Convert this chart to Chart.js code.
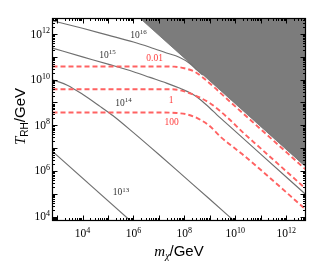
<!DOCTYPE html>
<html><head><meta charset="utf-8">
<script src="https://cdn.jsdelivr.net/npm/chart.js@4/dist/chart.umd.min.js"></script>
<style>html,body{margin:0;padding:0;background:#fff;}canvas{display:block}</style>
</head><body>
<canvas id="c" width="312" height="266"></canvas>
<script>
// ---- data (log10 values) ----
const xRangeExp = [2.82, 12.76];     // log10(m_chi/GeV) axis range
const yRangeExp = [3.83, 12.68];     // log10(T_RH/GeV) axis range
const xTickExps = [4, 6, 8, 10, 12];
const yTickExps = [4, 6, 8, 10, 12];

// gray solid curves (labelled 10^13 ... 10^16)
const c16LogM = [2.82, 4, 5, 6, 6.65, 7.3, 7.8, 8.2, 8.5, 8.72];
const c16LogT = [12.58, 12.25, 11.95, 11.65, 11.42, 11.17, 10.98, 10.72, 10.42, 10.2];
const c15LogM = [2.82, 4, 5, 6, 6.65, 7.3, 7.83, 8.3, 8.62, 9.0, 9.27, 9.6, 10.06, 11, 12.76];
const c15LogT = [11.38, 11.0, 10.68, 10.35, 10.1, 9.85, 9.62, 9.38, 9.13, 8.76, 8.47, 8.14, 7.68, 6.74, 4.98];
const c14LogM = [2.82, 3.4, 4, 4.7, 5.2, 6, 7, 8, 9, 10];
const c14LogT = [10.0, 9.76, 9.36, 8.82, 8.42, 7.68, 6.72, 5.74, 4.76, 3.77];
const c13LogM = [2.82, 5.9];
const c13LogT = [6.86, 3.8];

// red dashed curves (labelled 0.01, 1, 100)
const r001LogM = [2.82, 7.0, 7.6, 8.0, 8.4, 8.7, 9.2, 9.7, 10.3, 11, 12.76];
const r001LogT = [10.58, 10.58, 10.57, 10.5, 10.35, 10.12, 9.64, 9.13, 8.53, 7.83, 6.07];
const r1LogM = [2.82, 7.0, 7.44, 7.9, 8.22, 8.6, 9.01, 9.4, 9.8, 10.31, 11, 12.76];
const r1LogT = [9.58, 9.58, 9.58, 9.52, 9.40, 9.22, 8.97, 8.63, 8.23, 7.68, 6.99, 5.23];
const r100LogM = [2.82, 7.2, 7.7, 8.1, 8.42, 8.94, 9.47, 10.26, 11, 12.76];
const r100LogT = [8.56, 8.56, 8.54, 8.48, 8.36, 8.02, 7.45, 6.75, 6.05, 4.32];

// excluded region boundary (shaded above)
const exclLogM = [6.27, 12.76];
const exclLogT = [12.68, 6.19];

// curve labels: text, exponent, log10 m, log10 T (label centre)
const grayLabelBase = ['10', '10', '10', '10'];
const grayLabelExp = ['16', '15', '14', '13'];
const grayLabelLogM = [6.20, 4.98, 5.61, 5.51];
const grayLabelLogT = [11.98, 11.12, 9.0, 5.10];
const redLabelText = ['0.01', '1', '100'];
const redLabelLogM = [6.83, 7.48, 7.50];
const redLabelLogT = [10.93, 9.11, 8.13];

// ---- build ----
const pts = (lx, ly) => lx.map((e, i) => ({ x: Math.pow(10, e), y: Math.pow(10, ly[i]) }));
const GRAY = '#6f6f6f', RED = '#ff6262', FILL = '#7c7c7c';

function grayDs(lx, ly, name) {
  return { label: name, data: pts(lx, ly), showLine: true, borderColor: GRAY, borderWidth: 1.15,
    pointRadius: 0, cubicInterpolationMode: 'monotone', fill: false, order: 1 };
}
function redDs(lx, ly, name) {
  return { label: name, data: pts(lx, ly), showLine: true, borderColor: RED, borderWidth: 1.9,
    borderDash: [5, 3], pointRadius: 0, cubicInterpolationMode: 'monotone', fill: false, order: 0 };
}

function richWidth(ctx, parts) {
  let w = 0;
  for (const p of parts) { ctx.font = p.font; w += ctx.measureText(p.t).width; }
  return w;
}
function drawRich(ctx, parts, x, y, align, color) {
  const w = richWidth(ctx, parts);
  let cx = align === 'center' ? x - w / 2 : (align === 'right' ? x - w : x);
  ctx.fillStyle = color; ctx.textAlign = 'left'; ctx.textBaseline = 'alphabetic';
  for (const p of parts) {
    ctx.font = p.font;
    ctx.fillText(p.t, cx, y + (p.dy || 0));
    cx += ctx.measureText(p.t).width;
  }
}

const overlay = {
  id: 'overlay',
  afterDatasetsDraw(chart) {
    const ctx = chart.ctx, a = chart.chartArea, xs = chart.scales.x, ys = chart.scales.y;
    ctx.save();
    // frame
    ctx.strokeStyle = '#000'; ctx.lineWidth = 1.2;
    ctx.strokeRect(a.left, a.top, a.right - a.left, a.bottom - a.top);
    // inward ticks on all four sides
    ctx.lineWidth = 1;
    ctx.beginPath();
    for (let n = Math.floor(xRangeExp[0]); n <= Math.ceil(xRangeExp[1]); n++) {
      for (let k = 1; k <= 9; k++) {
        const v = k * Math.pow(10, n);
        if (v < xs.min || v > xs.max) continue;
        const p = Math.round(xs.getPixelForValue(v)) + 0.5;
        const L = k === 1 ? 5 : 2.5;
        ctx.moveTo(p, a.bottom); ctx.lineTo(p, a.bottom - L);
        ctx.moveTo(p, a.top); ctx.lineTo(p, a.top + L);
      }
    }
    for (let n = Math.floor(yRangeExp[0]); n <= Math.ceil(yRangeExp[1]); n++) {
      for (let k = 1; k <= 9; k++) {
        const v = k * Math.pow(10, n);
        if (v < ys.min || v > ys.max) continue;
        const p = Math.round(ys.getPixelForValue(v)) + 0.5;
        const L = k === 1 ? 5 : 2.5;
        ctx.moveTo(a.left, p); ctx.lineTo(a.left + L, p);
        ctx.moveTo(a.right, p); ctx.lineTo(a.right - L, p);
      }
    }
    ctx.stroke();
    // tick labels
    const base = '11.5px "Liberation Serif"', sup = '8px "Liberation Serif"';
    for (const e of xTickExps) {
      const p = xs.getPixelForValue(Math.pow(10, e));
      drawRich(ctx, [{ t: '10', font: base }, { t: String(e), font: sup, dy: -4.5 }], p, a.bottom + 16.5, 'center', '#000');
    }
    for (const e of yTickExps) {
      const p = ys.getPixelForValue(Math.pow(10, e));
      drawRich(ctx, [{ t: '10', font: base }, { t: String(e), font: sup, dy: -4.5 }], a.left - 2.5, p + 3.5, 'right', '#000');
    }
    // curve labels
    const lb = '9.5px "Liberation Serif"', ls = '7px "Liberation Serif"';
    grayLabelExp.forEach((ex, i) => {
      const px = xs.getPixelForValue(Math.pow(10, grayLabelLogM[i]));
      const py = ys.getPixelForValue(Math.pow(10, grayLabelLogT[i]));
      drawRich(ctx, [{ t: grayLabelBase[i], font: lb }, { t: ex, font: ls, dy: -3.5 }], px, py + 3.5, 'center', '#333');
    });
    redLabelText.forEach((t, i) => {
      const px = xs.getPixelForValue(Math.pow(10, redLabelLogM[i]));
      const py = ys.getPixelForValue(Math.pow(10, redLabelLogT[i]));
      drawRich(ctx, [{ t: t, font: lb }], px, py + 3, 'center', '#ff3c3c');
    });
    // axis titles
    const it = 'italic 15px "Liberation Serif"', sf = '15px "Liberation Sans"';
    drawRich(ctx, [{ t: 'm', font: it }, { t: 'χ', font: 'italic 10px "Liberation Serif"', dy: 3 }, { t: '/GeV', font: sf }],
      (a.left + a.right) / 2, 256, 'center', '#000');
    ctx.save();
    ctx.translate(24.5, (a.top + a.bottom) / 2 - 3);
    ctx.rotate(-Math.PI / 2);
    drawRich(ctx, [{ t: 'T', font: it }, { t: 'RH', font: '10px "Liberation Sans"', dy: 3 }, { t: '/GeV', font: sf }],
      0, 0, 'center', '#000');
    ctx.restore();
    ctx.restore();
  }
};

new Chart(document.getElementById('c'), {
  type: 'scatter',
  data: {
    datasets: [
      { label: 'excluded', data: pts(exclLogM, exclLogT), showLine: true, borderColor: '#6e6e6e', borderWidth: 0.8,
        backgroundColor: FILL, pointRadius: 0, fill: 'end', order: 5 },
      grayDs(c16LogM, c16LogT, '10^16'),
      grayDs(c15LogM, c15LogT, '10^15'),
      grayDs(c14LogM, c14LogT, '10^14'),
      grayDs(c13LogM, c13LogT, '10^13'),
      redDs(r001LogM, r001LogT, '0.01'),
      redDs(r1LogM, r1LogT, '1'),
      redDs(r100LogM, r100LogT, '100')
    ]
  },
  options: {
    responsive: false, animation: false, devicePixelRatio: 1,
    layout: { padding: { left: 0, right: 6.5, top: 18.5, bottom: 0 } },
    plugins: { legend: { display: false }, tooltip: { enabled: false } },
    scales: {
      x: { type: 'logarithmic', min: Math.pow(10, xRangeExp[0]), max: Math.pow(10, xRangeExp[1]),
        grid: { display: false }, border: { display: false }, ticks: { display: false },
        afterFit(s) { s.height = 45.5; } },
      y: { type: 'logarithmic', min: Math.pow(10, yRangeExp[0]), max: Math.pow(10, yRangeExp[1]),
        grid: { display: false }, border: { display: false }, ticks: { display: false },
        afterFit(s) { s.width = 52.5; } }
    }
  },
  plugins: [overlay]
});
</script>
</body></html>
